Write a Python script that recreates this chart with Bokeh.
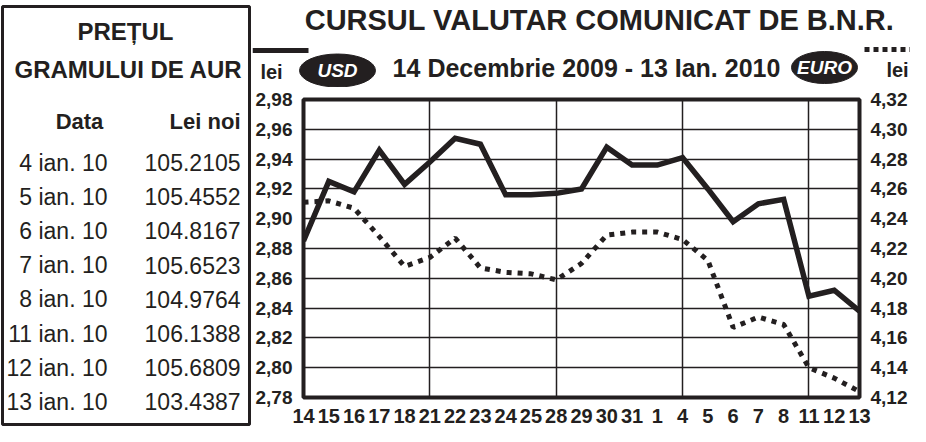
from bokeh.plotting import figure
from bokeh.layouts import row, column
from bokeh.models import Range1d, LinearAxis, FixedTicker
from bokeh.core.properties import value
from bokeh.embed import file_html
from bokeh.resources import INLINE

# ---------------- data ----------------
days = ["14", "15", "16", "17", "18", "21", "22", "23", "24", "25", "28", "29",
        "30", "31", "1", "4", "5", "6", "7", "8", "11", "12", "13"]
usd = [2.885, 2.925, 2.918, 2.946, 2.923, 2.938, 2.954, 2.950, 2.916, 2.916, 2.917, 2.920,
       2.948, 2.936, 2.936, 2.941, 2.920, 2.898, 2.910, 2.913, 2.848, 2.852, 2.838]
euro = [4.251, 4.252, 4.247, 4.228, 4.208, 4.214, 4.227, 4.207, 4.204, 4.203, 4.199, 4.210,
        4.229, 4.231, 4.231, 4.226, 4.212, 4.167, 4.174, 4.169, 4.140, 4.133, 4.124]
week_starts = ["21", "28", "4", "11"]
usd_ticks = [2.78, 2.80, 2.82, 2.84, 2.86, 2.88, 2.90, 2.92, 2.94, 2.96, 2.98]
usd_tick_labels = ["2,78", "2,80", "2,82", "2,84", "2,86", "2,88", "2,90", "2,92", "2,94", "2,96", "2,98"]
euro_ticks = [4.12, 4.14, 4.16, 4.18, 4.20, 4.22, 4.24, 4.26, 4.28, 4.30, 4.32]
euro_tick_labels = ["4,12", "4,14", "4,16", "4,18", "4,20", "4,22", "4,24", "4,26", "4,28", "4,30", "4,32"]
gold_dates = ["4 ian. 10", "5 ian. 10", "6 ian. 10", "7 ian. 10", "8 ian. 10",
              "11 ian. 10", "12 ian. 10", "13 ian. 10"]
gold_prices = [105.2105, 105.4552, 104.8167, 105.6523, 104.9764, 106.1388, 105.6809, 103.4387]

INK = "#231f20"
FONT = value("Liberation Sans")

# ---------------- left table ----------------
LW, LH = 252, 426
left = figure(width=LW, height=LH, x_range=Range1d(0, LW), y_range=Range1d(LH, 0),
              x_axis_type=None, y_axis_type=None, toolbar_location=None,
              output_backend="svg", min_border=0, outline_line_color=None)
left.grid.visible = False
left.quad(left=[2], right=[249], top=[6], bottom=[424], fill_color=None,
          line_color=INK, line_width=3)
left.text(x=[125, 128], y=[31, 69], text=["PREȚUL", "GRAMULUI DE AUR"],
          text_font=FONT, text_font_style="bold", text_font_size=value("24px"),
          text_align="center", text_baseline="middle", text_color=INK)
left.text(x=[79], y=[121], text=["Data"], text_font=FONT, text_font_style="bold",
          text_font_size=value("22px"), text_align="center", text_baseline="middle",
          text_color=INK)
left.text(x=[240], y=[121], text=["Lei noi"], text_font=FONT, text_font_style="bold",
          text_font_size=value("22px"), text_align="right", text_baseline="middle",
          text_color=INK)
row_y = [162 + i * 34.2 for i in range(len(gold_dates))]
left.text(x=[107] * len(gold_dates), y=row_y, text=gold_dates, text_font=FONT,
          text_font_size=value("23px"), text_align="right", text_baseline="middle",
          text_color=INK)
left.text(x=[240] * len(gold_prices), y=row_y, text=[f"{v:.4f}" for v in gold_prices],
          text_font=FONT, text_font_size=value("23px"), text_align="right",
          text_baseline="middle", text_color=INK)

# ---------------- header ----------------
HW, HH = 658, 87
head = figure(width=HW, height=HH, x_range=Range1d(0, HW), y_range=Range1d(HH, 0),
              x_axis_type=None, y_axis_type=None, toolbar_location=None,
              output_backend="svg", min_border=0, outline_line_color=None)
head.grid.visible = False
head.text(x=[347], y=[19], text=["CURSUL VALUTAR COMUNICAT DE B.N.R."], text_font=FONT,
          text_font_style="bold", text_font_size=value("29px"), text_align="center",
          text_baseline="middle", text_color=INK)
head.text(x=[334], y=[67], text=["14 Decembrie 2009 - 13 Ian. 2010"], text_font=FONT,
          text_font_style="bold", text_font_size=value("25px"), text_align="center",
          text_baseline="middle", text_color=INK)
head.text(x=[19, 645], y=[71, 69], text=["lei", "lei"], text_font=FONT,
          text_font_style="bold", text_font_size=value("20px"), text_align="center",
          text_baseline="middle", text_color=INK)
head.ellipse(x=[85, 572], y=[70, 67], width=[76, 66], height=[33, 32],
             fill_color=INK, line_color=INK)
head.text(x=[85, 572], y=[70, 67], text=["USD", "EURO"], text_font=FONT,
          text_font_style="bold italic", text_font_size=value("19px"), text_align="center",
          text_baseline="middle", text_color="white")
head.segment(x0=[0], y0=[50], x1=[56], y1=[50], line_width=5, line_color=INK)
head.segment(x0=[612], y0=[49], x1=[658], y1=[49], line_width=5, line_color=INK,
             line_dash="5 4")

# ---------------- chart ----------------
idx = list(range(len(days)))
p = figure(width=658, height=339, x_range=Range1d(0, len(days) - 1),
           y_range=Range1d(usd_ticks[0], usd_ticks[-1]), toolbar_location=None,
           output_backend="svg", min_border_left=47, min_border_right=43,
           min_border_top=12, min_border_bottom=29)
p.outline_line_color = INK
p.outline_line_width = 4
p.extra_y_ranges = {"euro": Range1d(euro_ticks[0], euro_ticks[-1])}

p.xaxis.ticker = FixedTicker(ticks=idx)
p.xaxis.major_label_overrides = {i: d for i, d in zip(idx, days)}
p.yaxis.ticker = FixedTicker(ticks=usd_ticks)
p.yaxis.major_label_overrides = {t: s for t, s in zip(usd_ticks, usd_tick_labels)}

raxis = LinearAxis(y_range_name="euro", ticker=FixedTicker(ticks=euro_ticks),
                   major_label_overrides={t: s for t, s in zip(euro_ticks, euro_tick_labels)})
p.add_layout(raxis, "right")

for ax in [p.xaxis[0], p.yaxis[0], raxis]:
    ax.axis_line_color = None
    ax.major_tick_line_color = None
    ax.minor_tick_line_color = None
    ax.major_label_text_font = "Liberation Sans"
    ax.major_label_text_font_style = "bold"
    ax.major_label_text_font_size = "19px"
    ax.major_label_text_color = INK
p.xaxis.major_label_text_font_size = "20px"
p.xaxis.major_label_standoff = 5
p.yaxis[0].major_label_standoff = 5
raxis.major_label_standoff = 5

p.xgrid.ticker = FixedTicker(ticks=[days.index(d) for d in week_starts])
p.xgrid.grid_line_color = INK
p.xgrid.grid_line_width = 1.5
p.ygrid.ticker = FixedTicker(ticks=usd_ticks)
p.ygrid.grid_line_color = INK
p.ygrid.grid_line_width = 1.5

p.line(x=idx, y=usd, line_width=5.5, line_color=INK, line_join="miter")
p.line(x=idx, y=euro, y_range_name="euro", line_width=5, line_color=INK,
       line_dash="5 6", line_cap="butt")

# header wrapped in its own row so its frame is not aligned to the chart frame
layout = row(left, column(row(head), p))
open("out.html", "w").write(file_html(layout, INLINE))
